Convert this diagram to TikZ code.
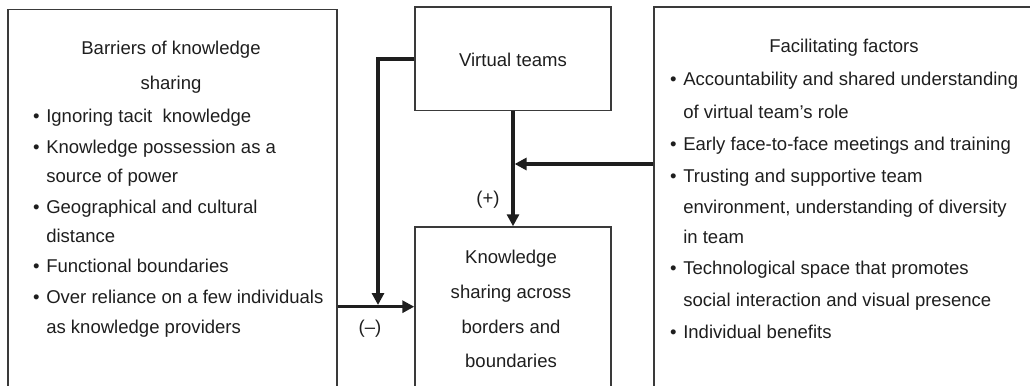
\documentclass[tikz,border=0pt]{standalone}
\usepackage{fontspec}
\setmainfont{Liberation Sans}
\usetikzlibrary{arrows.meta,fit}
\definecolor{ink}{HTML}{1E1E1E}
\definecolor{frame}{HTML}{3A3A3A}
% bullet hung to the left of an item's first line
\newcommand\itembul{\llap{•\hspace{5pt}}}
\begin{document}
\begin{tikzpicture}[x=0.75pt,y=-0.75pt,
  font=\fontsize{13.9}{16}\selectfont,
  panel/.style={draw=frame, line width=1.1pt, inner sep=0pt},
  txt/.style={anchor=base west, inner sep=0pt, text=ink},
  ctxt/.style={anchor=base, inner sep=0pt, text=ink},
  link/.style={draw=ink, line width=2.5pt, -{Triangle[length=9pt,width=9pt]}}]
\useasboundingbox (0,0) rectangle (1030,385);
\clip (0,0) rectangle (1030,385);

% panels (open towards the bottom edge)
\node[panel, fit={(8,9.5) (337,400)}] (barriers) {};
\node[panel, fit={(415,7) (611,110.7)}] (vteams) {};
\node[panel, fit={(415,227) (611,400)}] (sharing) {};
\node[panel, fit={(654,7) (1050,400)}] (factors) {};

% barriers panel
\node[ctxt] (b0) at (171,54.5) {Barriers of knowledge};
\node[ctxt] (b1) at (171,89.5) {sharing};
\node[txt] (b2) at (46,122.5) {\itembul Ignoring tacit\ \ knowledge};
\node[txt] (b3) at (46,153.5) {\itembul Knowledge possession as a};
\node[txt] (b4) at (46,182.5) {source of power};
\node[txt] (b5) at (46,213.5) {\itembul Geographical and cultural};
\node[txt] (b6) at (46,242.5) {distance};
\node[txt] (b7) at (46,272.5) {\itembul Functional boundaries};
\node[txt] (b8) at (46,303.5) {\itembul Over reliance on a few individuals};
\node[txt] (b9) at (46,333.5) {as knowledge providers};

% virtual teams
\node[ctxt] (v0) at (513,66) {Virtual teams};

% knowledge sharing
\node[ctxt] (k0) at (511,263) {Knowledge};
\node[ctxt] (k1) at (511,298) {sharing across};
\node[ctxt] (k2) at (511,333) {borders and};
\node[ctxt] (k3) at (511,367) {boundaries};

% facilitating factors panel
\node[ctxt] (f0) at (844,53) {Facilitating factors};
\node[txt] (f1) at (683,85.5) {\itembul Accountability and shared understanding};
\node[txt] (f2) at (683,118.5) {of virtual team’s role};
\node[txt] (f3) at (683,150.5) {\itembul Early face-to-face meetings and training};
\node[txt] (f4) at (683,182.5) {\itembul Trusting and supportive team};
\node[txt] (f5) at (683,213.5) {environment, understanding of diversity};
\node[txt] (f6) at (683,243.5) {in team};
\node[txt] (f7) at (683,274.5) {\itembul Technological space that promotes};
\node[txt] (f8) at (683,306.5) {social interaction and visual presence};
\node[txt] (f9) at (683,338.5) {\itembul Individual benefits};

% junction points on the connectors
\coordinate (mainrow) at (0,306.7);
\coordinate (negjoin) at (378,305);
\coordinate (posrow) at (0,164);
\coordinate (posjoin) at (514.6,164);

% connectors
\draw[link] (barriers.east |- mainrow) -- (sharing.west |- mainrow);
\draw[link] (vteams.west) -| (negjoin);
\draw[link] (vteams.south) -- (sharing.north);
\draw[link] (factors.west |- posrow) -- (posjoin);

% signs
\node[ctxt] (plus) at (488,204) {(+)};
\node[ctxt] (minus) at (370,333) {(–)};
\end{tikzpicture}
\end{document}
